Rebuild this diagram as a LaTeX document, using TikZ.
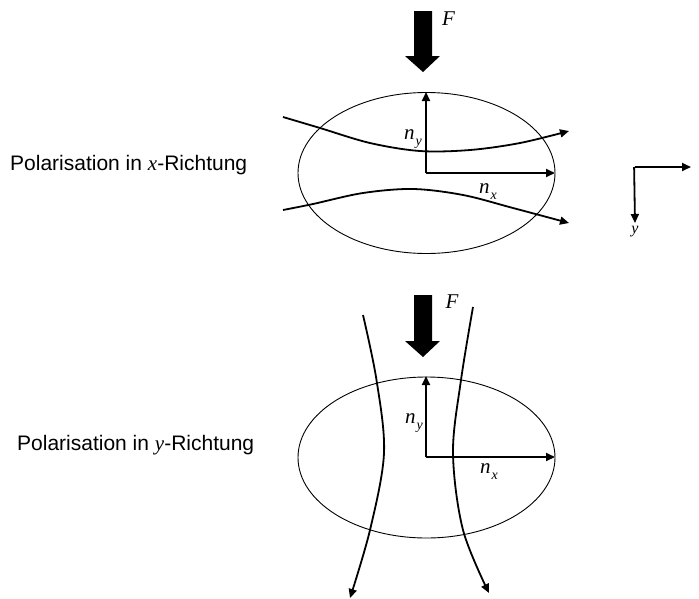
\documentclass[tikz,border=0pt]{standalone}
\usepackage{fontspec}
\setmainfont{Liberation Sans}
\newfontfamily\tnr{Liberation Serif}
\newcommand{\mysub}[1]{{\fontsize{14}{15}\selectfont\raisebox{-6pt}{\kern1pt#1}}}
\usetikzlibrary{arrows.meta}
\begin{document}
\begin{tikzpicture}[x=1pt,y=-1pt,
  thin line/.style={line width=0.9pt},
  beam/.style={line width=1.8pt,-{Triangle[length=9pt,width=8pt]}},
  axis/.style={line width=1.8pt,-{Triangle[length=9pt,width=8pt]}},
  force/.style={fill=black},
  lab/.style={inner sep=0pt,font=\fontsize{21}{24}\selectfont},
  mlab/.style={inner sep=0pt,font=\fontsize{21}{24}\selectfont\tnr\itshape}]
\useasboundingbox (0,0) rectangle (699,598);

% ---------- top: polarisation in x ----------
\draw[thin line] (426.5,173) ellipse [x radius=128.5, y radius=80.5];
\fill[force] (414,11) -- (432,11) -- (432,56) -- (440,56) -- (423,72) -- (405,56) -- (414,56) -- cycle;
\node[mlab] (F1) at (448.5,19) {F};
\coordinate (o1) at (426,173);
\coordinate (y1) at (426,92);
\coordinate (x1) at (555,173);
\draw[axis] (o1) -- (y1);
\draw[axis] (o1) -- (x1);
\node[mlab,anchor=base west] (ny1) at (404,139) {n\mysub{y}};
\node[mlab,anchor=base west] (nx1) at (479,193) {n\mysub{x}};
\draw[beam] plot[smooth,tension=0.55] coordinates {(283,117) (320,128) (370,143) (420,151) (470,150) (520,143) (569,131)};
\draw[beam] plot[smooth,tension=0.55] coordinates {(283,210) (313,204) (363,193) (413,189) (463,195) (513,208) (569,223)};
\node[lab,anchor=west] (t1) at (10,165) {Polarisation in {\tnr\itshape x}-Richtung};

% ---------- coordinate axes at right ----------
\coordinate (c) at (635,167);
\coordinate (cx) at (691,167);
\coordinate (cy) at (635,223);
\draw[axis] (c) -- (cx);
\draw[axis] ([xshift=-0.9pt]c) -- (cy);
\node[mlab,font=\fontsize{16}{18}\selectfont\tnr\itshape] (ylab) at (635,232) {y};

% ---------- bottom: polarisation in y ----------
\draw[thin line] (426.5,457.5) ellipse [x radius=128.5, y radius=80.5];
\fill[force] (414,295) -- (432,295) -- (432,341) -- (440,341) -- (423,357) -- (405,341) -- (414,341) -- cycle;
\node[mlab] (F2) at (452,302) {F};
\coordinate (o2) at (426,457);
\coordinate (y2) at (426,376);
\coordinate (x2) at (555,457);
\draw[axis] (o2) -- (y2);
\draw[axis] (o2) -- (x2);
\node[mlab,anchor=base west] (ny2) at (405,423) {n\mysub{y}};
\node[mlab,anchor=base west] (nx2) at (480,473) {n\mysub{x}};
\draw[beam] plot[smooth,tension=0.55] coordinates {(363,315) (376.5,380) (384,453) (370,530) (350,598)};
\draw[beam] plot[smooth,tension=0.55] coordinates {(473,307) (461,380) (453,453) (463,530) (489,593)};
\node[lab,anchor=west] (t2) at (17,445) {Polarisation in {\tnr\itshape y}-Richtung};
\end{tikzpicture}
\end{document}
